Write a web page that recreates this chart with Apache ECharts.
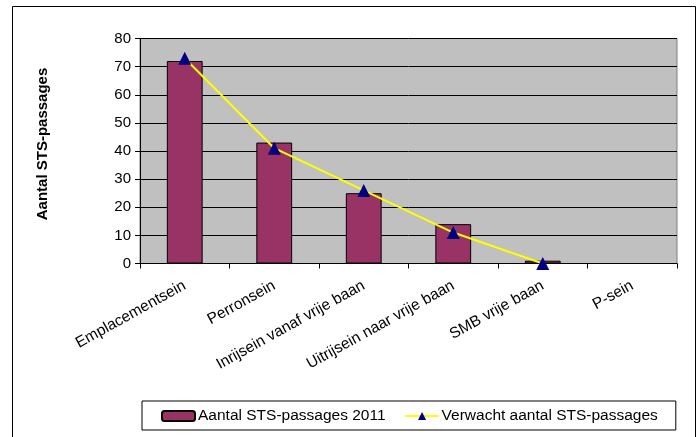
<!DOCTYPE html>
<html>
<head>
<meta charset="utf-8">
<script src="https://cdn.jsdelivr.net/npm/echarts@6/dist/echarts.min.js"></script>
<style>
  html, body { margin: 0; padding: 0; background: #fff; }
  #box1 { width: 700px; height: 437px; }
</style>
</head>
<body>
<div id="box1"></div>
<script>
var chart = echarts.init(document.getElementById('box1'));

var categories = ['Emplacementsein', 'Perronsein', 'Inrijsein vanaf vrije baan', 'Uitrijsein naar vrije baan', 'SMB vrije baan', 'P-sein'];
var passages2011 = [72, 43, 25, 14, 1, 0];
var verwacht = [73, 41, 26, 11, 0, null];
var yTicks = [0, 10, 20, 30, 40, 50, 60, 70, 80];

var font = 'Arial, "Liberation Sans", sans-serif';

chart.setOption({
  animation: false,
  backgroundColor: '#fff',
  textStyle: { fontFamily: font },
  graphic: [{
    type: 'rect',
    shape: { x: 12.5, y: 6.5, width: 683, height: 450 },
    style: { fill: 'none', stroke: '#000', lineWidth: 1 },
    silent: true
  }],
  grid: {
    left: 140,
    right: 23,
    top: 38.5,
    bottom: 173.5,
    show: true,
    backgroundColor: '#C0C0C0',
    borderColor: '#808080',
    borderWidth: 1
  },
  legend: {
    left: 142,
    top: 401,
    padding: [7, 18, 6, 19],
    itemGap: 19,
    itemWidth: 33,
    itemHeight: 10,
    borderColor: '#000',
    borderWidth: 1,
    textStyle: { fontFamily: font, fontSize: 15.5, color: '#000', padding: [0, 0, 0, -2] },
    data: ['Aantal STS-passages 2011', 'Verwacht aantal STS-passages']
  },
  xAxis: {
    type: 'category',
    data: categories,
    boundaryGap: true,
    axisLine: { lineStyle: { color: '#000', width: 1 } },
    axisTick: { show: true, length: 5, lineStyle: { color: '#000' } },
    axisLabel: {
      rotate: 29,
      interval: 0,
      margin: 21,
      fontSize: 15.5,
      fontFamily: font,
      color: '#000'
    },
    splitLine: { show: false }
  },
  yAxis: {
    type: 'value',
    min: 0,
    max: yTicks[yTicks.length - 1],
    interval: yTicks[1] - yTicks[0],
    name: 'Aantal STS-passages',
    nameLocation: 'middle',
    nameGap: 90,
    nameRotate: 90,
    nameTextStyle: { fontFamily: font, fontSize: 15, fontWeight: 'bold', color: '#000', padding: [0, 0, 0, 14] },
    axisLine: { show: true, lineStyle: { color: '#000', width: 1 } },
    axisTick: { show: true, inside: false, length: 5, lineStyle: { color: '#000' } },
    axisLabel: { fontSize: 15, fontFamily: font, color: '#000', margin: 9 },
    splitLine: { show: true, lineStyle: { color: '#000', width: 1 } }
  },
  series: [{
      name: 'Aantal STS-passages 2011',
      type: 'bar',
      barWidth: '40%',
      data: passages2011,
      itemStyle: { color: '#993366', borderColor: '#000', borderWidth: 1 }
    },
    {
      name: 'Verwacht aantal STS-passages',
      type: 'line',
      data: verwacht,
      symbol: 'triangle',
      symbolSize: 13,
      showAllSymbol: true,
      itemStyle: { color: '#000080' },
      lineStyle: { color: '#FFFF00', width: 2 },
      z: 5
    }
  ]
});
</script>
</body>
</html>
